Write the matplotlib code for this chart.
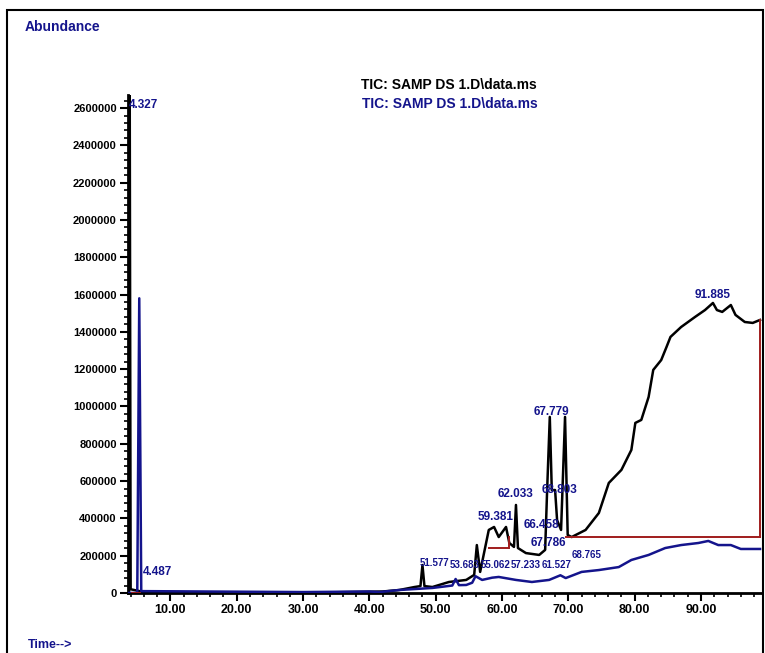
import numpy as np
import matplotlib
matplotlib.use("Agg")
import matplotlib.pyplot as plt
from matplotlib.patches import Rectangle

plt.rcParams['font.family'] = ['Liberation Sans', 'DejaVu Sans']
plt.rcParams['font.weight'] = 'bold'

# TIC 1 (black), time in min / abundance
t_black = [3.6, 3.75, 3.85, 4.0, 6.0, 20.0, 35.0, 42.0, 44.5, 46.8, 47.7, 48.0, 48.3,
           49.5, 52.0, 54.6, 55.8, 56.2, 56.7, 58.0, 58.8, 59.5, 60.6, 61.1, 61.8,
           62.1, 62.4, 63.6, 65.6, 66.5, 66.8, 67.2, 67.5, 68.0, 68.3, 68.9, 69.5,
           69.9, 70.5, 72.6, 74.6, 76.1, 78.0, 79.5, 80.1, 81.0, 82.1, 82.8, 84.0,
           84.8, 85.4, 87.0, 89.1, 90.6, 91.8, 92.4, 93.2, 94.5, 95.2, 96.6, 97.8, 98.9]
a_black = [0, 0, 2900000, 20000, 5000, 3000, 4000, 8000, 16000, 32000, 37000, 150000, 37000,
           32000, 59000, 70000, 97000, 257000, 113000, 338000, 354000, 300000, 354000, 268000, 247000,
           472000, 241000, 214000, 204000, 231000, 552000, 944000, 552000, 552000, 391000, 338000, 944000,
           311000, 300000, 338000, 429000, 590000, 660000, 767000, 912000, 928000, 1051000, 1196000, 1249000,
           1319000, 1373000, 1426000, 1480000, 1517000, 1555000, 1517000, 1507000, 1544000, 1491000, 1453000, 1448000, 1464000]

# TIC 2 (blue)
t_blue = [3.6, 5.0, 5.3, 5.6, 30.0, 40.0, 41.5, 44.5, 49.5, 52.5, 53.0, 53.5, 54.6,
          55.5, 56.0, 57.0, 58.5, 59.5, 62.1, 64.5, 67.1, 68.8, 69.6, 72.0, 74.6,
          77.6, 79.5, 82.1, 84.6, 87.0, 89.6, 91.1, 92.6, 94.5, 96.0, 98.9]
a_blue = [0, 0, 1580000, 10000, 5000, 8000, 5000, 16000, 27000, 40000, 75000, 42000, 43000,
          55000, 90000, 70000, 82000, 86000, 70000, 59000, 70000, 95000, 80000, 113000, 123000,
          139000, 177000, 204000, 241000, 257000, 268000, 279000, 257000, 257000, 236000, 236000]

# integration baselines (red): start, end, level start, level end
red_t0 = [4.2, 58.0, 61.0, 69.6]
red_t1 = [5.4, 61.0, 61.0, 98.9]
red_a0 = [0, 241000, 241000, 300000]
red_a1 = [0, 241000, 300000, 300000]
red_end_t = 98.9
red_end_a = [300000, 1464000]

# peak labels
peak_text = ["4.327", "4.487", "59.381", "62.033", "66.458", "67.779", "68.803", "67.786", "91.885"]
peak_t = [5.9, 8.0, 59.0, 62.1, 66.0, 67.4, 68.6, 67.0, 91.8]
peak_a = [2617000, 110000, 407000, 531000, 365000, 970000, 552000, 268000, 1600000]

# small labels crowded near the baseline
small_text = ["51.577", "53.683", "55.062", "57.233", "61.527", "68.765"]
small_t = [49.8, 54.4, 59.0, 63.6, 68.2, 72.8]
small_a = [161000, 150000, 150000, 150000, 150000, 205000]

xticks = [10, 20, 30, 40, 50, 60, 70, 80, 90]
yticks = list(range(0, 2600001, 200000))

navy = '#14148c'
dred = '#a01c1c'

fig = plt.figure(figsize=(7.65, 6.53), dpi=100)
ax = fig.add_axes([0.1673, 0.0919, 0.8288, 0.7626])

ax.plot(t_black, a_black, color='black', lw=1.8, zorder=3)
ax.plot(t_blue, a_blue, color=navy, lw=1.8, zorder=4)
for i in range(len(red_t0)):
    ax.plot([red_t0[i], red_t1[i]], [red_a0[i], red_a1[i]], color=dred, lw=1.4, zorder=5)
ax.plot([red_end_t, red_end_t], red_end_a, color=dred, lw=1.4, zorder=5)

for s, t, a in zip(peak_text, peak_t, peak_a):
    ax.text(t, a, s, color=navy, fontsize=8.5, fontweight='bold',
            ha='center', va='center', zorder=6, clip_on=False)
for s, t, a in zip(small_text, small_t, small_a):
    ax.text(t, a, s, color=navy, fontsize=7, fontweight='bold',
            ha='center', va='center', zorder=6, clip_on=False)

ax.set_xlim(3.6, 99.2)
ax.set_ylim(0, 2670000)
ax.set_xticks(xticks)
ax.set_xticklabels([f"{v:.2f}" for v in xticks])
ax.set_xticks(np.arange(4, 99, 2), minor=True)
ax.set_yticks(yticks)
ax.set_yticklabels([str(v) for v in yticks])
ax.set_yticks(np.arange(0, 2670000, 40000), minor=True)

for side in ['top', 'right']:
    ax.spines[side].set_visible(False)
for side in ['left', 'bottom']:
    ax.spines[side].set_linewidth(2)
ax.tick_params(which='major', direction='out', length=6, width=1.5, labelsize=8, pad=2)
ax.tick_params(axis='x', which='major', labelsize=9)
ax.tick_params(which='minor', direction='out', length=3, width=1.2)

fig.text(449 / 765, 1 - 85 / 653, "TIC: SAMP DS 1.D\\data.ms", color='black',
         fontsize=10, fontweight='bold', ha='center', va='center')
fig.text(450 / 765, 1 - 104 / 653, "TIC: SAMP DS 1.D\\data.ms", color=navy,
         fontsize=10, fontweight='bold', ha='center', va='center')
fig.text(25 / 765, 1 - 27 / 653, "Abundance", color=navy, fontsize=10,
         fontweight='bold', ha='left', va='center')
fig.text(28 / 765, 1 - 645 / 653, "Time-->", color=navy, fontsize=9,
         fontweight='bold', ha='left', va='center')

fig.add_artist(Rectangle((7 / 765, -0.05), (763 - 7) / 765, 1.05 - 10 / 653,
                         transform=fig.transFigure, fill=False, lw=1.5, color='black'))

fig.savefig("out.png", dpi=100)
